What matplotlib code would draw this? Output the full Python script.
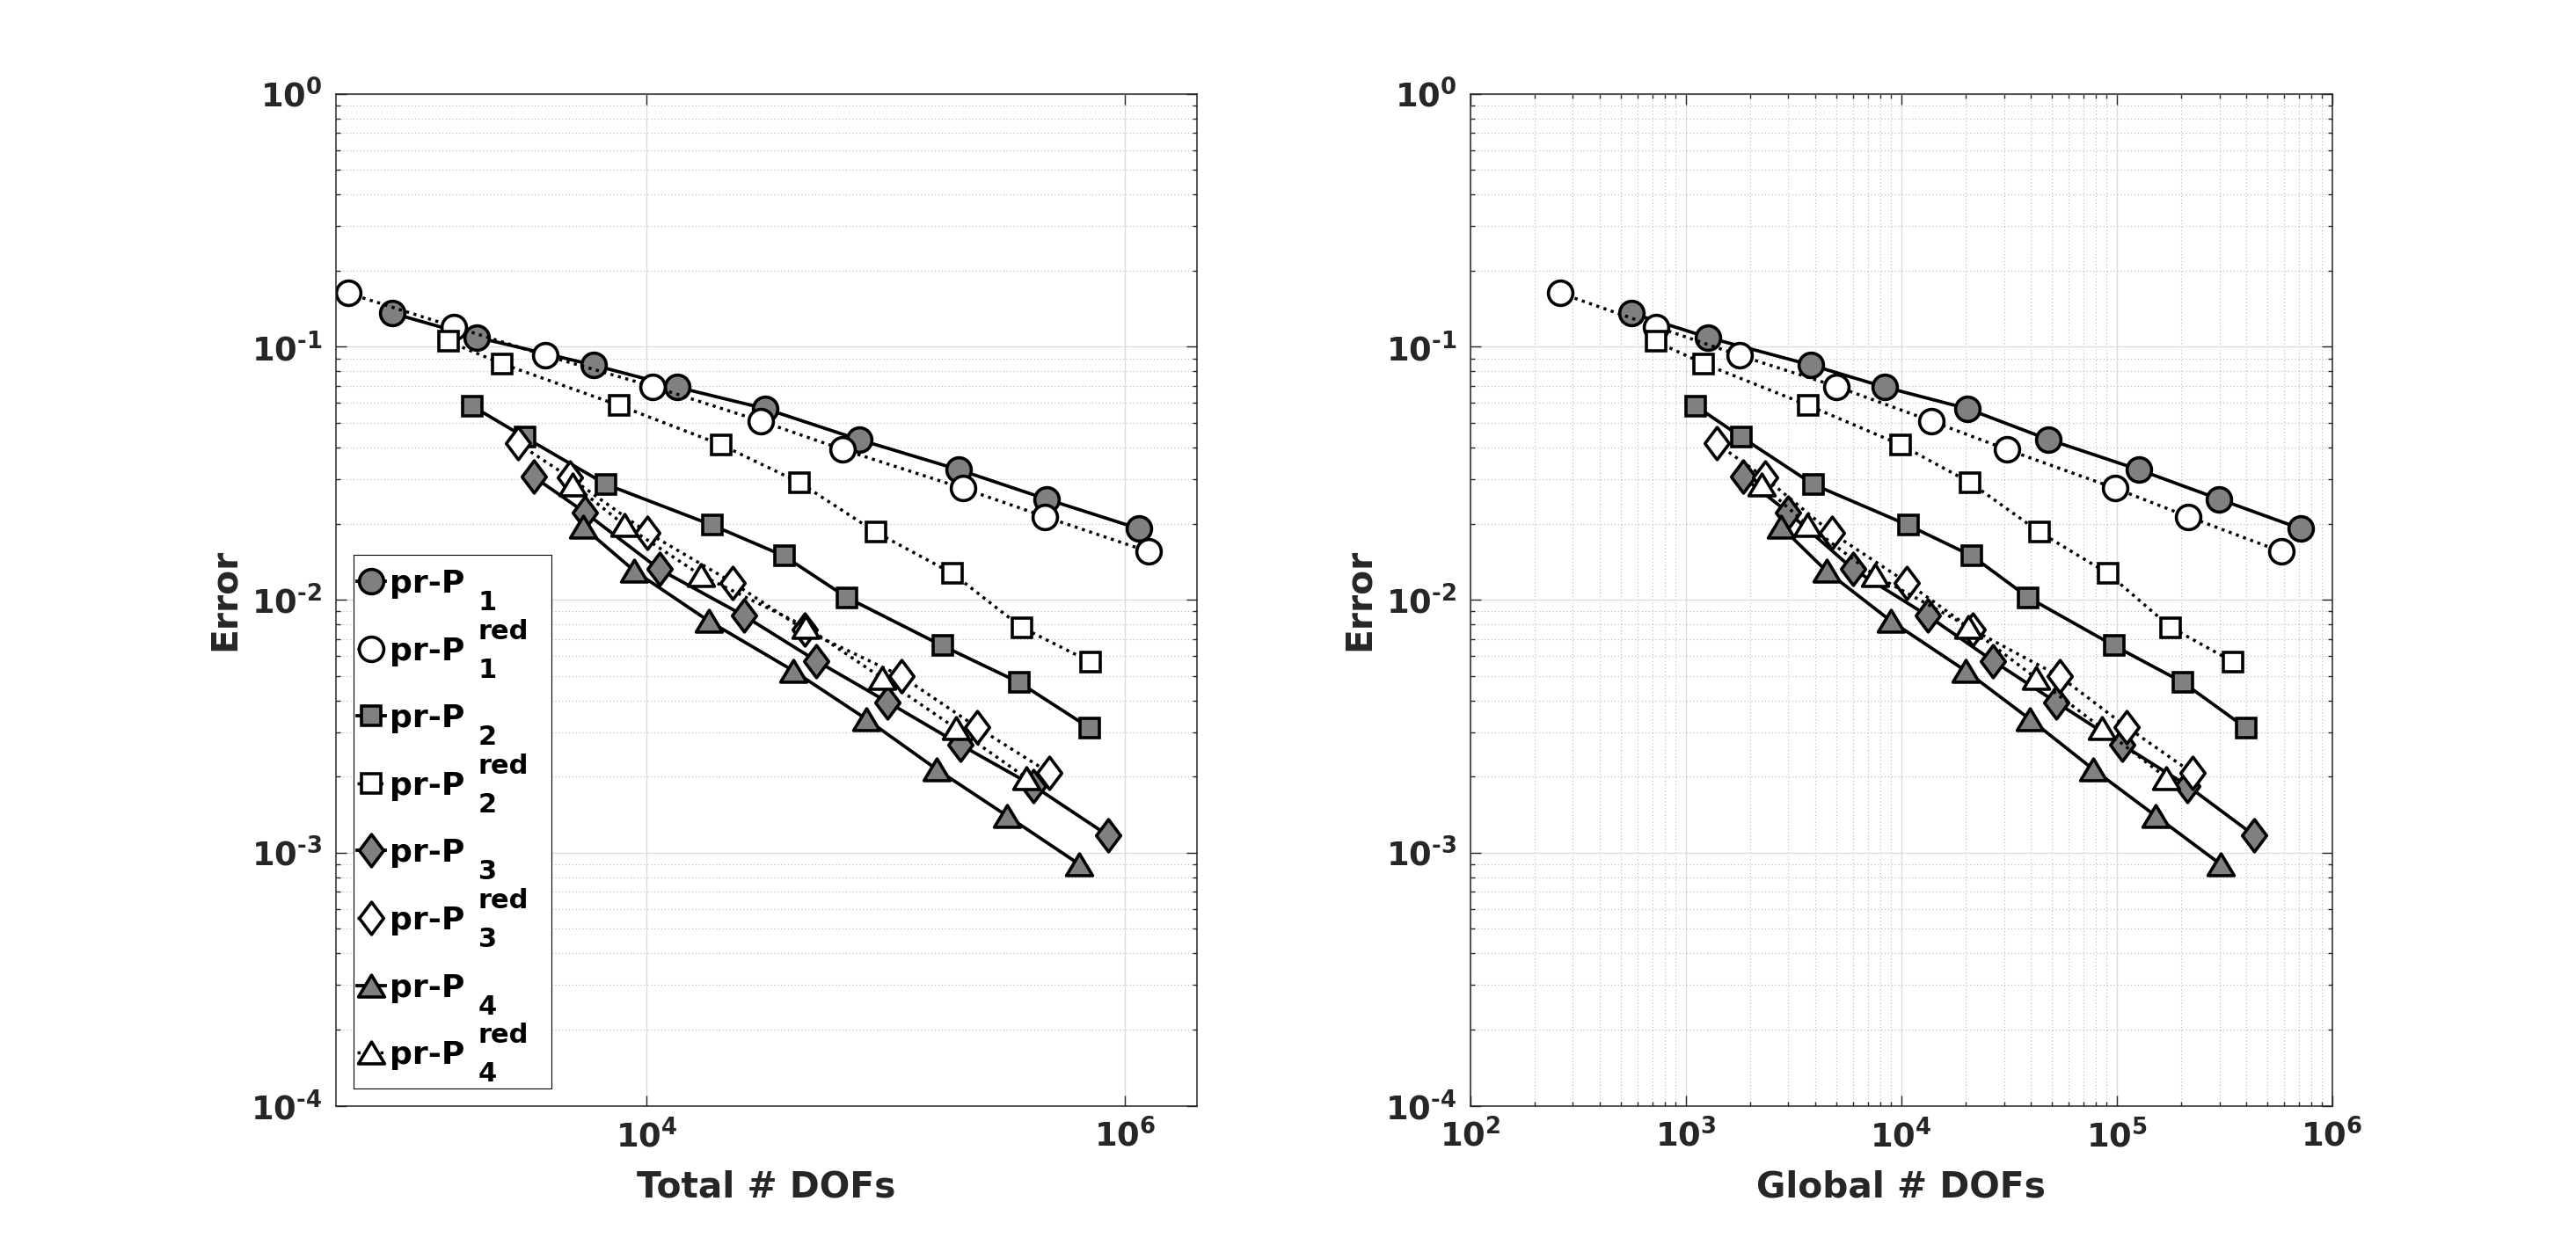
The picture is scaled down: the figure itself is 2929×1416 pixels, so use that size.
import numpy as np
import matplotlib
matplotlib.use('Agg')
import matplotlib.pyplot as plt
from matplotlib.ticker import FixedLocator, FixedFormatter, LogLocator, NullLocator, NullFormatter
from matplotlib.path import Path
from matplotlib.markers import MarkerStyle
from matplotlib.transforms import ScaledTranslation
from matplotlib.patches import Rectangle

plt.rcParams['font.family'] = ['DejaVu Sans']
plt.rcParams['font.weight'] = 'bold'
plt.rcParams['mathtext.fontset'] = 'dejavusans'

# ---------------- data ----------------
names = ['pr-P', 'pr-P', 'pr-P', 'pr-P', 'pr-P', 'pr-P', 'pr-P', 'pr-P']
subs = ['1', '1', '2', '2', '3', '3', '4', '4']
sups = ['', 'red', '', 'red', '', 'red', '', 'red']

err_p1 = [0.136, 0.109, 0.0847, 0.0693, 0.0570, 0.0430, 0.0327, 0.0250, 0.0191]
err_p1r = [0.163, 0.120, 0.0924, 0.0697, 0.0509, 0.0393, 0.0276, 0.0213, 0.0155]
err_p2 = [0.0583, 0.0439, 0.0286, 0.0197, 0.0149, 0.0102, 0.00658, 0.00471, 0.00311]
err_p2r = [0.105, 0.0858, 0.0587, 0.0410, 0.0291, 0.0185, 0.0127, 0.00778, 0.00568]
err_p3 = [0.0306, 0.0222, 0.0132, 0.00866, 0.00574, 0.00394, 0.00267, 0.00184, 0.00117]
err_p3r = [0.0415, 0.0304, 0.0184, 0.0117, 0.00760, 0.00499, 0.00314, 0.00207]
err_p4 = [0.0194, 0.0130, 0.00825, 0.00524, 0.00338, 0.00214, 0.00140, 0.000900]
err_p4r = [0.0286, 0.0198, 0.0125, 0.00782, 0.00490, 0.00311, 0.00198]

tot_p1 = [859, 1949, 5996, 13370, 31200, 77020, 201200, 469200, 1142000]
tot_p1r = [563, 1564, 3775, 10610, 29900, 65920, 209800, 462600, 1254000]
tot_p2 = [1862, 3088, 6750, 18850, 37500, 68770, 172300, 360900, 712600]
tot_p2r = [1477, 2477, 7645, 20480, 43400, 90700, 190100, 369300, 716900]
tot_p3 = [3371, 5494, 11290, 25450, 51110, 101700, 205100, 413300, 849200]
tot_p3r = [2893, 4769, 10090, 22860, 45670, 116000, 239700, 482600]
tot_p4 = [5415, 8882, 18140, 41020, 82640, 162700, 320600, 643800]
tot_p4r = [4909, 8043, 16850, 46330, 96500, 195600, 385200]

glb_p1 = [560, 1265, 3819, 8412, 20240, 48320, 126500, 299200, 715000]
glb_p1r = [262, 731, 1784, 5017, 13800, 30890, 98420, 215300, 581500]
glb_p2 = [1115, 1821, 3906, 10810, 21370, 38990, 97500, 203500, 399200]
glb_p2r = [727, 1214, 3704, 9954, 20870, 43990, 91290, 178400, 347800]
glb_p3 = [1842, 2984, 5998, 13260, 26650, 52330, 106400, 213300, 435800]
glb_p3r = [1390, 2330, 4760, 10640, 21530, 54280, 111500, 224400]
glb_p4 = [2780, 4499, 8960, 19920, 39470, 77800, 151600, 304100]
glb_p4r = [2257, 3669, 7544, 20550, 42240, 85450, 170200]

left_xticks = [1e4, 1e6]
left_xticklabels = ['$\\mathbf{10^{4}}$', '$\\mathbf{10^{6}}$']
right_xticks = [1e2, 1e3, 1e4, 1e5, 1e6]
right_xticklabels = ['$\\mathbf{10^{2}}$', '$\\mathbf{10^{3}}$', '$\\mathbf{10^{4}}$',
                     '$\\mathbf{10^{5}}$', '$\\mathbf{10^{6}}$']
yticks = [1e-4, 1e-3, 1e-2, 1e-1, 1e0]
yticklabels = ['$\\mathbf{10^{\u20104}}$', '$\\mathbf{10^{\u20103}}$', '$\\mathbf{10^{\u20102}}$',
               '$\\mathbf{10^{\u20101}}$', '$\\mathbf{10^{0}}$']

# ---------------- styles ----------------
diamond = MarkerStyle(Path([(0, 1), (0.75, 0), (0, -1), (-0.75, 0), (0, 1)], closed=True), joinstyle='miter')
triangle = MarkerStyle(Path([(0, 1), (1.2, -1), (-1.2, -1), (0, 1)], closed=True), joinstyle='miter')
circle = MarkerStyle('o')
square = MarkerStyle('s')

GRAY = '#808080'
markers = [circle, circle, square, square, diamond, diamond, triangle, triangle]
msizes = [20, 20, 16, 16, 26.5, 26.5, 21.5, 21.5]
faces = [GRAY, 'white'] * 4
lstyles = ['-', (0, (1, 1.5))] * 4
lwidths = [2.7, 2.5] * 4

errs = [err_p1, err_p1r, err_p2, err_p2r, err_p3, err_p3r, err_p4, err_p4r]
tots = [tot_p1, tot_p1r, tot_p2, tot_p2r, tot_p3, tot_p3r, tot_p4, tot_p4r]
glbs = [glb_p1, glb_p1r, glb_p2, glb_p2r, glb_p3, glb_p3r, glb_p4, glb_p4r]

TXT = '#262626'
fig = plt.figure(figsize=(29.29, 14.16), dpi=100)
axL = fig.add_axes([0.1303, 0.1119, 0.3344, 0.8127])
axR = fig.add_axes([0.5707, 0.1119, 0.3346, 0.8127])


def style_axes(ax):
    ax.set_xscale('log')
    ax.set_yscale('log')
    ax.set_ylim(1e-4, 1e0)
    ax.yaxis.set_major_locator(FixedLocator(yticks))
    ax.yaxis.set_major_formatter(FixedFormatter(yticklabels))
    ax.yaxis.set_minor_locator(LogLocator(base=10, subs=np.arange(2, 10), numticks=50))
    ax.yaxis.set_minor_formatter(NullFormatter())
    ax.set_axisbelow(True)
    ax.grid(True, which='major', color='#dcdcdc', linestyle='-', linewidth=1.0)
    ax.grid(True, which='minor', color='#b8b8b8', linestyle=(0, (1, 2.5)), linewidth=0.8)
    ax.tick_params(which='both', direction='in', top=True, right=True, color=TXT,
                   labelcolor=TXT, labelsize=26.6, width=1.0)
    ax.tick_params(which='major', length=8.6, pad=11)
    ax.tick_params(which='minor', length=3.6)
    for s in ax.spines.values():
        s.set_color(TXT)
        s.set_linewidth(1.1)
    ax.set_ylabel('Error', fontsize=29.3, fontweight='bold', color=TXT)
    ax.yaxis.set_label_coords(-0.108, 0.5)


for ax, xs_all in ((axL, tots), (axR, glbs)):
    for i in range(8):
        ax.plot(xs_all[i], errs[i], linestyle=lstyles[i], color='black', linewidth=lwidths[i],
                marker=markers[i], markersize=msizes[i], markerfacecolor=faces[i],
                markeredgecolor='black', markeredgewidth=2.6)
    style_axes(ax)

axL.set_xlim(500, 2e6)
axL.xaxis.set_major_locator(FixedLocator(left_xticks))
axL.xaxis.set_major_formatter(FixedFormatter(left_xticklabels))
axL.xaxis.set_minor_locator(NullLocator())
axL.set_xlabel('Total # DOFs', fontsize=29.3, fontweight='bold', color=TXT)
axL.xaxis.set_label_coords(0.5, -0.063)

axR.set_xlim(1e2, 1e6)
axR.xaxis.set_major_locator(FixedLocator(right_xticks))
axR.xaxis.set_major_formatter(FixedFormatter(right_xticklabels))
axR.xaxis.set_minor_locator(LogLocator(base=10, subs=np.arange(2, 10), numticks=50))
axR.xaxis.set_minor_formatter(NullFormatter())
axR.set_xlabel('Global # DOFs', fontsize=29.3, fontweight='bold', color=TXT)
axR.xaxis.set_label_coords(0.5, -0.063)

# ---------------- legend (MATLAB-like, stacked sub/superscripts) ----------------
# offsets below are in pixels relative to the legend's top-left corner
T = ScaledTranslation(0.0207, 0.5444, axL.transAxes)
LEG_W, LEG_H = 225, 607
ROW0, ROW_STEP = 30, 76.6
axL.add_patch(Rectangle((0, -LEG_H), LEG_W, LEG_H, transform=T, facecolor='white',
                        edgecolor='black', linewidth=0.8, clip_on=False, zorder=10))
for i in range(8):
    yc = -(ROW0 + ROW_STEP * i)
    axL.plot([4, 36], [yc, yc], transform=T, linestyle=lstyles[i], color='black',
             linewidth=lwidths[i], clip_on=False, zorder=11)
    axL.plot([20], [yc], transform=T, linestyle='none', marker=markers[i],
             markersize=msizes[i], markerfacecolor=faces[i], markeredgecolor='black',
             markeredgewidth=2.6, clip_on=False, zorder=11)
    base = yc - 13
    axL.text(41, base, names[i], transform=T, fontsize=26, fontweight='bold', color='black',
             ha='left', va='baseline', zorder=12, clip_on=False)
    axL.text(142, base - 20, subs[i], transform=T, fontsize=22, fontweight='bold',
             color='black', ha='left', va='baseline', zorder=12, clip_on=False)
    if sups[i]:
        axL.text(142, base + 24, sups[i], transform=T, fontsize=22, fontweight='bold',
                 color='black', ha='left', va='baseline', zorder=12, clip_on=False)

fig.savefig('out.png', dpi=100, facecolor='white')
